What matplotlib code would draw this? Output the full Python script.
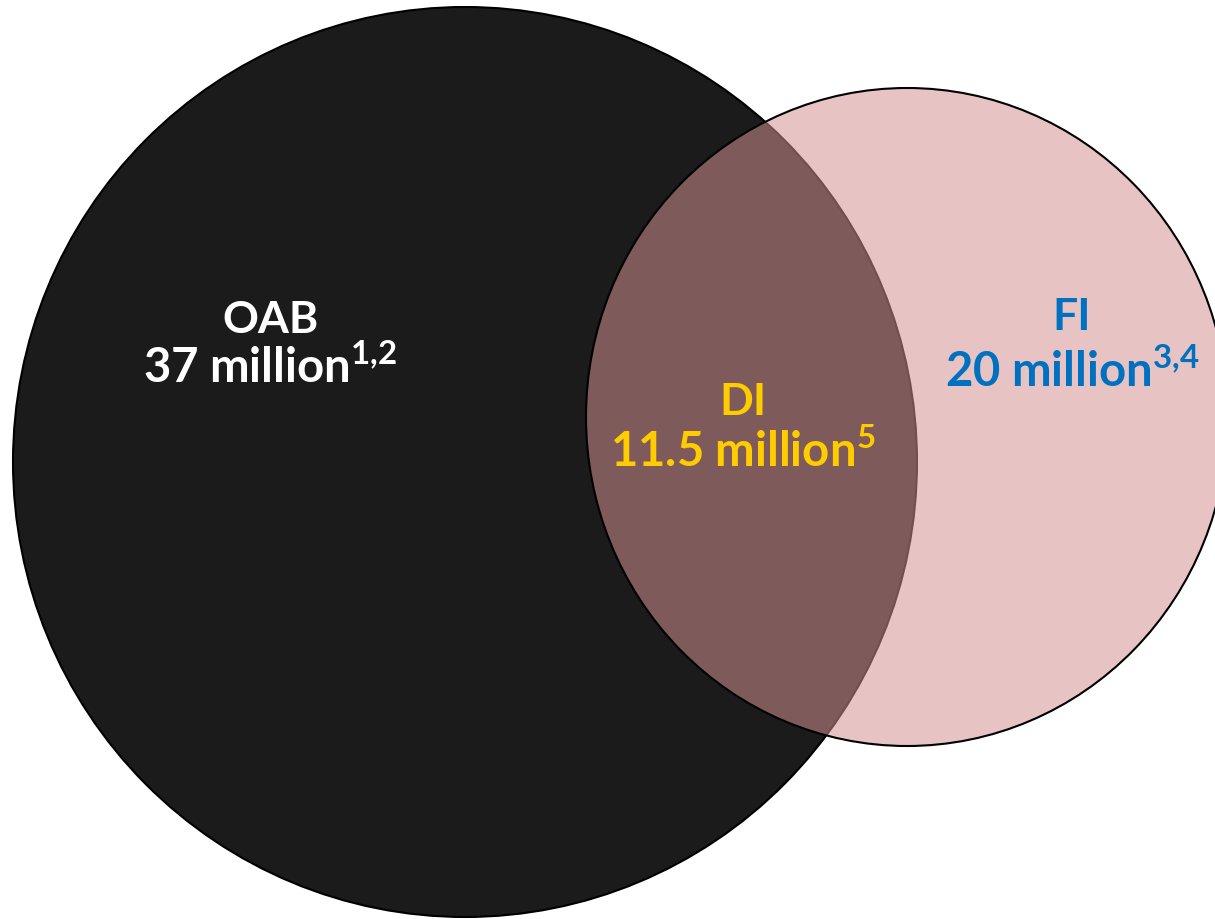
import matplotlib.pyplot as plt
from matplotlib.patches import Ellipse

# Venn labels: group name, population, reference marks
groups = ['OAB', 'FI', 'DI']
populations = ['37 million', '20 million', '11.5 million']
refs = ['1{,}2', '3{,}4', '5']
text_colors = ['white', '#0070c0', '#ffcc00']

plt.rcParams['font.family'] = ['Lato', 'DejaVu Sans']
plt.rcParams['mathtext.fontset'] = 'custom'
plt.rcParams['mathtext.rm'] = 'Lato'
plt.rcParams['mathtext.bf'] = 'Lato:bold'

fig = plt.figure(figsize=(12.15, 9.2), dpi=100)
ax = fig.add_axes([0, 0, 1, 1])
ax.set_xlim(0, 1215)
ax.set_ylim(920, 0)
ax.axis('off')

# big circle (OAB) and the overlapping pink one (FI)
ax.add_patch(Ellipse((465, 463), 904, 910, facecolor='#1b1b1b',
                     edgecolor='black', lw=1.5, zorder=1))
ax.add_patch(Ellipse((907, 418), 642, 658, facecolor=(212/255, 147/255, 144/255, 0.54),
                     edgecolor='black', lw=1.5, zorder=2))

# label placement (x center, baseline of name, baseline of population)
label_pos = [(270, 333, 382), (1072, 330, 386), (743, 415, 466)]

for name, pop, ref, col, (x, y1, y2) in zip(groups, populations, refs, text_colors, label_pos):
    ax.text(x, y1, name, ha='center', va='baseline', fontsize=32,
            fontweight='bold', color=col, zorder=3)
    ax.text(x, y2, pop + r'$^{\mathbf{' + ref + '}}$', ha='center', va='baseline',
            fontsize=34, fontweight='bold', color=col, zorder=3)

fig.savefig('out.png', dpi=100)
